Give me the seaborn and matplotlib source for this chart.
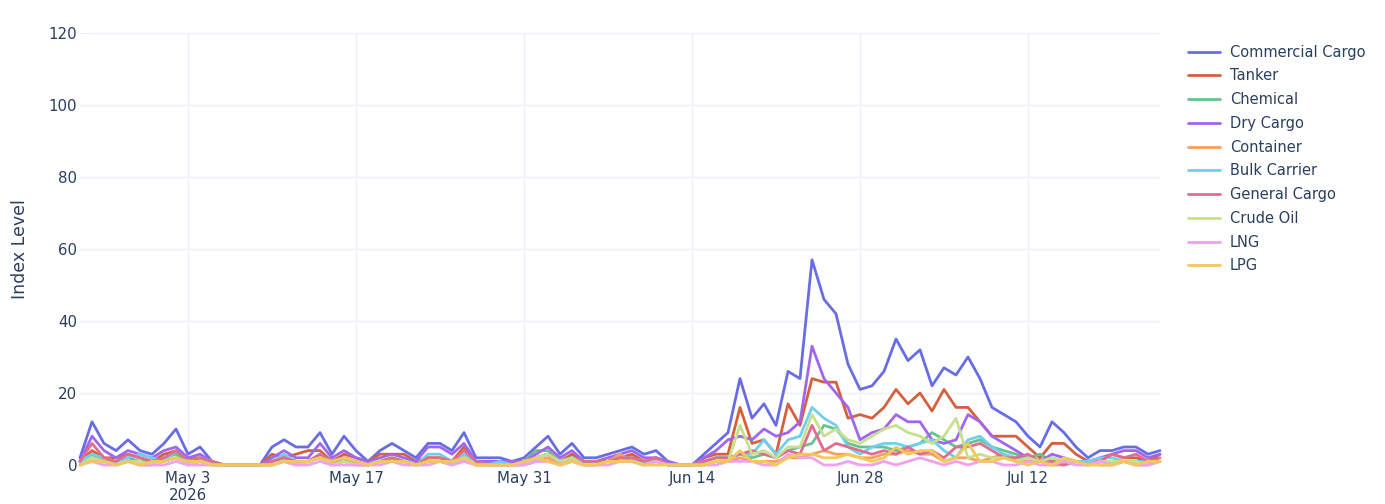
"""
Vessel activity index by segment, daily, late Apr - Jul 2026
"""

import pandas as pd
import numpy as np
import matplotlib
matplotlib.use('Agg')
import matplotlib.pyplot as plt
import seaborn as sns

sns.set_style('white')
plt.rcParams['font.family'] = ['DejaVu Sans']

# 91 daily points starting Apr 24 2026
start_date = '2026-04-24'
n_days = 91

segments = ['Commercial Cargo', 'Tanker', 'Chemical', 'Dry Cargo', 'Container',
            'Bulk Carrier', 'General Cargo', 'Crude Oil', 'LNG', 'LPG']

commercial_cargo = [2, 12, 6, 4, 7, 4, 3, 6, 10, 3, 5, 1, 0, 0, 0, 0,
                    5, 7, 5, 5, 9, 3, 8, 4, 1, 4, 6, 4, 2, 6, 6, 4, 9, 2, 2, 2,
                    1, 2, 5, 8, 3, 6, 2, 2, 3, 4, 5, 3, 4, 1, 0, 0,
                    3, 6, 9, 24, 13, 17, 11, 26, 24, 57, 46, 42, 28, 21, 22, 26, 35, 29,
                    32, 22, 27, 25, 30, 24, 16, 14, 12, 8, 5, 12, 9, 5, 2, 4, 4, 5, 5, 3, 4]
tanker = [1, 4, 2, 2, 3, 2, 1, 3, 4, 2, 2, 1, 0, 0, 0, 0,
          3, 2, 3, 4, 4, 1, 3, 2, 1, 3, 3, 3, 1, 2, 2, 1, 5, 1, 1, 1,
          1, 1, 2, 3, 1, 3, 1, 1, 1, 2, 3, 1, 2, 0, 0, 0,
          2, 3, 3, 16, 6, 7, 3, 17, 11, 24, 23, 23, 13, 14, 13, 16, 21, 17,
          20, 15, 21, 16, 16, 12, 8, 8, 8, 5, 2, 6, 6, 3, 1, 1, 3, 2, 2, 1, 3]
chemical = [1, 3, 1, 1, 2, 1, 1, 2, 3, 1, 1, 0, 0, 0, 0, 0,
            1, 2, 1, 1, 2, 1, 1, 1, 0, 1, 2, 1, 0, 1, 1, 1, 2, 0, 1, 1,
            0, 1, 4, 4, 1, 2, 1, 1, 1, 2, 2, 1, 2, 1, 0, 0,
            1, 2, 2, 3, 2, 3, 2, 4, 5, 6, 11, 10, 6, 5, 5, 5, 4, 5,
            6, 9, 7, 5, 6, 7, 5, 4, 3, 2, 3, 1, 1, 1, 0, 1, 1, 1, 0, 1, 1]
dry_cargo = [1, 8, 4, 2, 4, 3, 2, 4, 5, 2, 3, 1, 0, 0, 0, 0,
             2, 4, 2, 2, 6, 2, 4, 2, 1, 2, 3, 2, 1, 5, 5, 3, 6, 1, 1, 1,
             1, 1, 3, 5, 2, 4, 1, 1, 2, 3, 4, 2, 2, 1, 0, 0,
             2, 4, 7, 8, 7, 10, 8, 9, 12, 33, 24, 20, 16, 7, 9, 10, 14, 12,
             12, 7, 6, 7, 14, 12, 8, 6, 4, 2, 1, 3, 2, 1, 1, 2, 3, 4, 4, 2, 3]
container = [0, 2, 1, 0, 1, 0, 0, 1, 2, 0, 1, 0, 0, 0, 0, 0,
             0, 1, 0, 1, 2, 0, 1, 0, 0, 1, 1, 1, 0, 1, 1, 0, 2, 0, 0, 0,
             0, 0, 1, 2, 0, 1, 0, 0, 1, 3, 1, 0, 1, 0, 0, 0,
             0, 1, 1, 2, 1, 1, 1, 2, 2, 3, 4, 3, 3, 2, 2, 3, 3, 4,
             3, 3, 1, 2, 2, 1, 2, 3, 1, 1, 1, 0, 0, 1, 1, 0, 0, 1, 0, 0, 1]
bulk_carrier = [1, 3, 2, 1, 2, 3, 2, 1, 4, 1, 2, 1, 0, 0, 0, 0,
                1, 3, 1, 1, 3, 1, 2, 1, 0, 1, 2, 1, 0, 3, 3, 1, 3, 1, 0, 1,
                0, 1, 2, 3, 1, 2, 1, 1, 1, 1, 2, 1, 1, 0, 0, 0,
                1, 2, 2, 3, 3, 7, 3, 7, 8, 16, 13, 11, 5, 3, 5, 6, 6, 5,
                6, 7, 4, 2, 7, 8, 5, 3, 2, 2, 1, 2, 1, 1, 1, 2, 2, 1, 1, 1, 1]
general_cargo = [1, 6, 2, 1, 3, 2, 1, 2, 4, 1, 2, 1, 0, 0, 0, 0,
                 1, 2, 1, 1, 3, 1, 2, 1, 0, 1, 2, 1, 0, 2, 2, 1, 4, 1, 0, 0,
                 0, 1, 2, 3, 1, 2, 1, 1, 1, 2, 2, 1, 2, 0, 0, 0,
                 1, 2, 2, 3, 4, 3, 2, 4, 3, 11, 4, 6, 5, 4, 3, 4, 3, 5,
                 3, 4, 2, 5, 5, 6, 4, 2, 2, 3, 1, 1, 0, 1, 0, 1, 3, 2, 3, 1, 2]
crude_oil = [0, 2, 1, 0, 1, 1, 0, 1, 2, 0, 1, 0, 0, 0, 0, 0,
             0, 1, 0, 1, 2, 0, 1, 0, 0, 1, 1, 1, 0, 1, 1, 0, 2, 0, 0, 0,
             0, 0, 2, 3, 1, 2, 0, 0, 1, 1, 1, 0, 1, 0, 0, 0,
             0, 1, 1, 11, 3, 4, 2, 5, 5, 14, 8, 10, 7, 6, 8, 10, 11, 9,
             8, 6, 8, 13, 2, 3, 2, 2, 1, 2, 1, 2, 1, 1, 0, 1, 1, 1, 1, 0, 1]
lng = [0, 1, 0, 0, 1, 0, 0, 0, 1, 0, 0, 0, 0, 0, 0, 0,
       0, 1, 0, 0, 1, 0, 0, 0, 0, 0, 1, 0, 0, 0, 1, 0, 1, 0, 0, 0,
       0, 0, 1, 1, 0, 1, 0, 0, 0, 1, 1, 0, 1, 0, 0, 0,
       0, 0, 1, 1, 1, 0, 0, 3, 2, 2, 0, 0, 1, 0, 0, 1, 0, 1,
       2, 1, 0, 1, 0, 1, 1, 0, 0, 1, 0, 0, 1, 0, 0, 1, 0, 1, 0, 0, 1]
lpg = [0, 1, 1, 0, 1, 0, 1, 1, 2, 1, 1, 0, 0, 0, 0, 0,
       0, 1, 1, 1, 2, 1, 2, 1, 0, 1, 1, 1, 0, 1, 1, 1, 2, 0, 0, 0,
       0, 1, 2, 1, 0, 1, 0, 0, 1, 1, 1, 0, 0, 0, 0, 0,
       0, 1, 1, 4, 1, 1, 0, 2, 3, 3, 2, 2, 3, 2, 1, 2, 5, 3,
       4, 4, 1, 2, 6, 1, 1, 2, 1, 0, 1, 0, 2, 1, 0, 0, 0, 1, 0, 1, 1]

# colours as they appear in the picture (muted plotly palette)
colors = ['#686de6', '#d5603e', '#68c28e', '#a266ee', '#f5a05c',
          '#6fcfee', '#e06d8e', '#c6e08e', '#f0a0ee', '#f3c85a']

tick_dates = ['2026-05-03', '2026-05-17', '2026-05-31', '2026-06-14', '2026-06-28', '2026-07-12']
tick_labels = ['May 3\n2026', 'May 17', 'May 31', 'Jun 14', 'Jun 28', 'Jul 12']

# long-form table for seaborn
dates = pd.date_range(start_date, periods=n_days, freq='D')
series = [commercial_cargo, tanker, chemical, dry_cargo, container,
          bulk_carrier, general_cargo, crude_oil, lng, lpg]
df = pd.concat([pd.DataFrame({'date': dates, 'value': vals, 'segment': name})
                for name, vals in zip(segments, series)], ignore_index=True)

fig = plt.figure(figsize=(13.85, 5.04), dpi=100)
ax = fig.add_axes([80 / 1385, 1 - 465 / 504, 1080 / 1385, 432 / 504])

sns.lineplot(data=df, x='date', y='value', hue='segment', hue_order=segments,
             palette=colors, linewidth=2.0, ax=ax)
for line in ax.lines:
    line.set_clip_on(False)

ax.set_xlim(dates[0], dates[-1])
ax.set_ylim(0, 120)
ax.set_yticks(np.arange(0, 121, 20))
ax.set_xticks(pd.to_datetime(tick_dates))
ax.set_xticklabels(tick_labels)

text_color = '#2a3f5f'
ax.tick_params(axis='both', length=0, labelsize=10.8, colors=text_color)
ax.tick_params(axis='x', pad=4)
ax.tick_params(axis='y', pad=2)
ax.set_xlabel('')
ax.set_ylabel('Index Level', fontsize=12.5, color=text_color, labelpad=14)
ax.grid(True, color='#ebf0f8', linewidth=1)
ax.set_axisbelow(True)
for s in ax.spines.values():
    s.set_visible(False)

ax.legend(loc='upper left', bbox_to_anchor=(1.026, 0.973), frameon=False,
          fontsize=10.5, labelcolor=text_color, handlelength=2.2,
          handletextpad=0.65, labelspacing=0.6, borderaxespad=0, borderpad=0)

plt.savefig('out.png', dpi=100)
plt.close()
